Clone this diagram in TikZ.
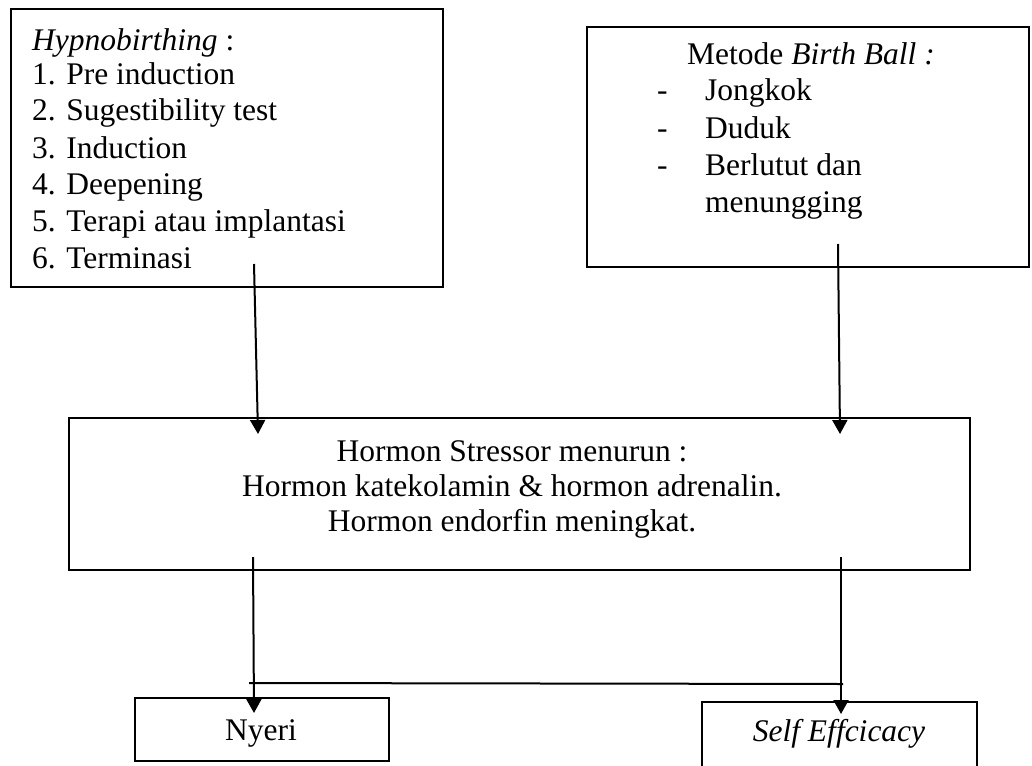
\documentclass[tikz,border=0pt]{standalone}
\usepackage{fontspec}
\setmainfont{Liberation Serif}
\usetikzlibrary{arrows.meta}
\begin{document}
\begin{tikzpicture}[x=1pt,y=-1pt,
  box/.style={draw=black,line width=1.6pt},
  txt/.style={inner sep=0pt,anchor=base west,font=\fontsize{31.5}{36.5}\selectfont},
  ctxt/.style={inner sep=0pt,anchor=base,font=\fontsize{31.5}{36.5}\selectfont},
  arr/.style={line width=2pt,-{Triangle[length=14pt,width=15pt]}},
  ln/.style={line width=2pt}]
\useasboundingbox (0,0) rectangle (1032,765);
% boxes
\draw[box] (11,9) rectangle (443,287);
\draw[box] (587,27) rectangle (1029,267);
\draw[box] (69,418) rectangle (970,570);
\draw[box] (135,698) rectangle (389,761);
\draw[box] (702,702) rectangle (977,770);
\node[inner sep=0pt] (hyp) at (227,148) {};
\node[inner sep=0pt] (bb) at (808,147) {};
\node[inner sep=0pt] (mid) at (519,494) {};
\node[inner sep=0pt] (ny) at (262,730) {};
\node[inner sep=0pt] (se) at (839,733) {};
% left box text
\node[txt] (h0) at (32,51) {\itshape Hypnobirthing\upshape{} :};
\node[txt] (h1) at (32,85) {1. Pre induction};
\node[txt] (h2) at (32,121) {2. Sugestibility test};
\node[txt] (h3) at (32,158) {3. Induction};
\node[txt] (h4) at (32,194) {4. Deepening};
\node[txt] (h5) at (32,231) {5. Terapi atau implantasi};
\node[txt] (h6) at (32,268) {6. Terminasi};
% right box text
\node[txt] (b0) at (687,65) {Metode \textit{Birth Ball :}};
\node[txt] (d1) at (657,101) {-};
\node[txt] (b1) at (705,101) {Jongkok};
\node[txt] (d2) at (657,138) {-};
\node[txt] (b2) at (705,138) {Duduk};
\node[txt] (d3) at (657,175) {-};
\node[txt] (b3) at (705,175) {Berlutut dan};
\node[txt] (b4) at (705,212) {menungging};
% middle text
\node[ctxt] (m1) at (512,461) {Hormon Stressor menurun :};
\node[ctxt] (m2) at (512,496) {Hormon katekolamin \& hormon adrenalin.};
\node[ctxt] (m3) at (512,531) {Hormon endorfin meningkat.};
% bottom text
\node[ctxt] (t1) at (261,740) {Nyeri};
\node[ctxt] (t2) at (839,741) {\itshape Self Effcicacy};
% connector coordinates
\coordinate (a1s) at (254,264);
\coordinate (a1e) at (258,434);
\coordinate (a2s) at (838,244);
\coordinate (a2e) at (840,434);
\coordinate (a3s) at (253,557);
\coordinate (a3e) at (254,713);
\coordinate (a4s) at (841,557);
\coordinate (a4e) at (841,714);
\coordinate (hl) at (249,683);
\coordinate (hr) at (843,684);
\draw[arr] (a1s) -- (a1e);
\draw[arr] (a2s) -- (a2e);
\draw[arr] (a3s) -- (a3e);
\draw[arr] (a4s) -- (a4e);
\draw[ln] (hl) -- (hr);
\end{tikzpicture}
\end{document}
